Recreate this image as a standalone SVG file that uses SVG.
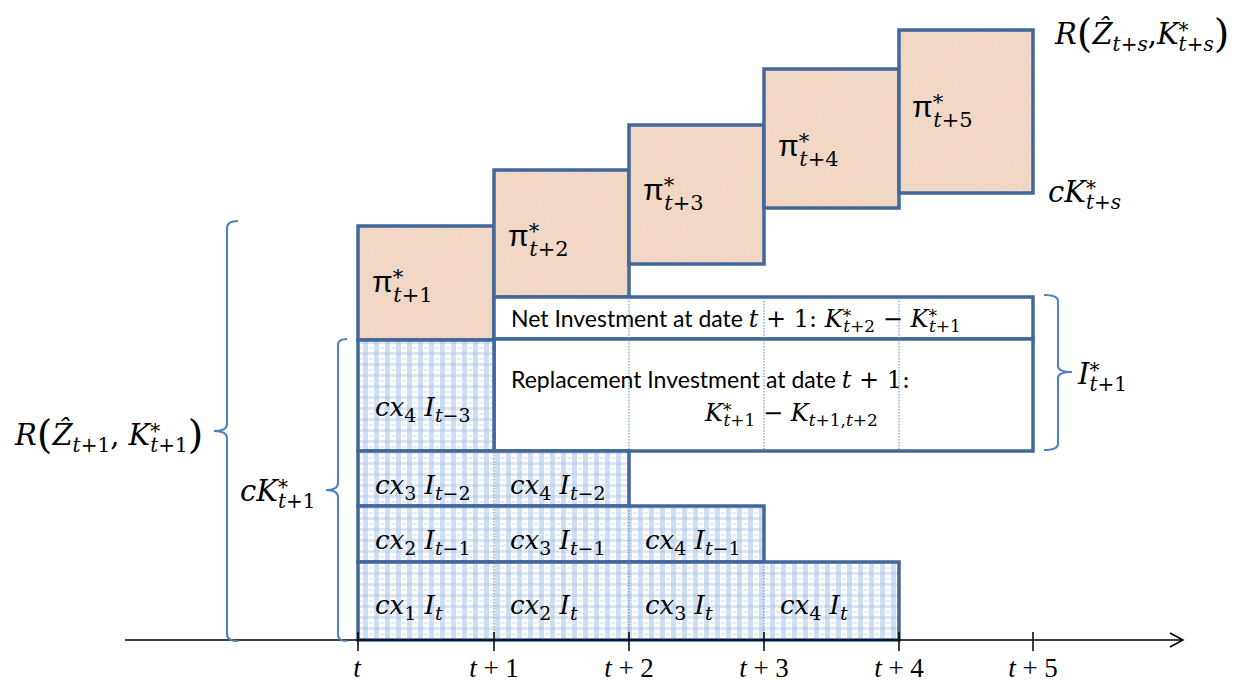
<svg xmlns="http://www.w3.org/2000/svg" width="1247" height="682" viewBox="0 0 1247 682">
<defs>
<pattern id="pOr" width="14" height="7" patternUnits="userSpaceOnUse" patternTransform="rotate(-45)">
<rect width="14" height="7" fill="#FCD6B6"/>
<path d="M0,0.5H14 M4,0.5V4 M11,4V7.5 M0,4H14" stroke="#D2DBEB" stroke-width="0.8" fill="none"/>
</pattern>
<pattern id="pBl" width="11" height="11" patternUnits="userSpaceOnUse">
<rect width="11" height="11" fill="#FFFFFF"/>
<rect width="5" height="11" fill="#CFDEF3"/>
<rect width="11" height="3" fill="#DCE6F5"/>
<rect width="5" height="3" fill="#C0D4EE"/>
<rect x="6" y="6" width="4" height="2" fill="#E4ECF8"/>
</pattern>
</defs>
<style>
.box{stroke:#41679B;stroke-width:3.5}
.or{fill:url(#pOr)}
.bl{fill:url(#pBl)}
.wh{fill:#FFFFFF}
.dot{stroke:#4F81BD;stroke-width:1;stroke-dasharray:1.5 1.5;fill:none}
.brace{stroke:#4F81BD;stroke-width:2;fill:none}
.ax{stroke:#000000;stroke-width:1.5;fill:none}
.m{font-family:"DejaVu Serif","Liberation Serif",serif;font-style:italic;fill:#000000}
.lm{font-family:"Liberation Serif","DejaVu Serif",serif;font-style:italic;fill:#000000}
.u{font-style:normal}
.lb{font-size:26px}
.s{font-size:19px}
.s2{font-size:20px}
.pi{font-family:"Liberation Sans","DejaVu Sans",sans-serif;font-size:30px;fill:#000000}
.sans{font-family:Lato,"Liberation Sans",sans-serif;font-size:23px;fill:#000000}
</style>

<!-- profit boxes -->
<g id="pi1"><rect class="box or" x="358" y="226" width="136" height="114"/>
<text class="pi" x="372" y="292">π<tspan class="m" font-size="21" dy="-8">*</tspan><tspan class="m" font-size="21" dx="-10" dy="18">t</tspan><tspan class="m u" font-size="21">+1</tspan></text></g>
<g id="pi2"><rect class="box or" x="494" y="170" width="135" height="127"/>
<text class="pi" x="508" y="246">π<tspan class="m" font-size="21" dy="-8">*</tspan><tspan class="m" font-size="21" dx="-10" dy="18">t</tspan><tspan class="m u" font-size="21">+2</tspan></text></g>
<g id="pi3"><rect class="box or" x="629" y="125" width="135" height="139"/>
<text class="pi" x="643" y="200">π<tspan class="m" font-size="21" dy="-8">*</tspan><tspan class="m" font-size="21" dx="-10" dy="18">t</tspan><tspan class="m u" font-size="21">+3</tspan></text></g>
<g id="pi4"><rect class="box or" x="764" y="69" width="135" height="139"/>
<text class="pi" x="778" y="156">π<tspan class="m" font-size="21" dy="-8">*</tspan><tspan class="m" font-size="21" dx="-10" dy="18">t</tspan><tspan class="m u" font-size="21">+4</tspan></text></g>
<g id="pi5"><rect class="box or" x="899" y="30" width="134" height="163"/>
<text class="pi" x="912" y="117">π<tspan class="m" font-size="21" dy="-8">*</tspan><tspan class="m" font-size="21" dx="-10" dy="18">t</tspan><tspan class="m u" font-size="21">+5</tspan></text></g>

<!-- investment boxes -->
<g id="netInv"><rect class="box wh" x="494" y="297" width="539" height="42"/></g>
<g id="replInv"><rect class="box wh" x="494" y="339" width="539" height="112"/></g>

<!-- capital boxes -->
<g id="row1"><rect class="box bl" x="358" y="340" width="136" height="111"/></g>
<g id="row2"><rect class="box bl" x="358" y="451" width="271" height="55"/></g>
<g id="row3"><rect class="box bl" x="358" y="506" width="406" height="56"/></g>
<g id="row4"><rect class="box bl" x="358" y="562" width="541" height="78"/></g>

<!-- dotted period dividers -->
<g id="dividers">
<path class="dot" d="M494,452V640 M629,298V451 M629,507V640 M764,298V451 M764,563V640 M899,298V451"/>
</g>

<!-- texts in boxes -->
<g id="netInvText">
<text class="sans" x="511" y="327">Net Investment at date <tspan class="m" font-size="24">t<tspan class="u"> + 1: </tspan>K<tspan font-size="17" dy="-5">*</tspan><tspan font-size="17" dx="-8" dy="10">t</tspan><tspan class="u" font-size="17">+2</tspan><tspan class="u" dy="-5"> − </tspan>K<tspan font-size="17" dy="-5">*</tspan><tspan font-size="17" dx="-8" dy="10">t</tspan><tspan class="u" font-size="17">+1</tspan></tspan></text>
</g>
<g id="replInvText">
<text class="sans" x="511" y="388">Replacement Investment at date <tspan class="m" font-size="24">t<tspan class="u"> + 1:</tspan></tspan></text>
<text class="m" font-size="24" x="705" y="421">K<tspan font-size="17" dy="-5">*</tspan><tspan font-size="17" dx="-8" dy="10">t</tspan><tspan class="u" font-size="17">+1</tspan><tspan class="u" dy="-5"> − </tspan>K<tspan font-size="17" dy="5">t</tspan><tspan class="u" font-size="17">+1,</tspan><tspan font-size="17">t</tspan><tspan class="u" font-size="17">+2</tspan></text>
</g>

<g id="capText">
<text class="m lb" x="375" y="416">cx<tspan class="u s" dy="6">4</tspan><tspan dy="-6"> I</tspan><tspan class="s" dy="6">t</tspan><tspan class="u s">−3</tspan></text>
<text class="m lb" x="375" y="494">cx<tspan class="u s" dy="6">3</tspan><tspan dy="-6"> I</tspan><tspan class="s" dy="6">t</tspan><tspan class="u s">−2</tspan></text>
<text class="m lb" x="510" y="494">cx<tspan class="u s" dy="6">4</tspan><tspan dy="-6"> I</tspan><tspan class="s" dy="6">t</tspan><tspan class="u s">−2</tspan></text>
<text class="m lb" x="375" y="549">cx<tspan class="u s" dy="6">2</tspan><tspan dy="-6"> I</tspan><tspan class="s" dy="6">t</tspan><tspan class="u s">−1</tspan></text>
<text class="m lb" x="510" y="549">cx<tspan class="u s" dy="6">3</tspan><tspan dy="-6"> I</tspan><tspan class="s" dy="6">t</tspan><tspan class="u s">−1</tspan></text>
<text class="m lb" x="645" y="549">cx<tspan class="u s" dy="6">4</tspan><tspan dy="-6"> I</tspan><tspan class="s" dy="6">t</tspan><tspan class="u s">−1</tspan></text>
<text class="m lb" x="375" y="614">cx<tspan class="u s" dy="6">1</tspan><tspan dy="-6"> I</tspan><tspan class="s" dy="6">t</tspan></text>
<text class="m lb" x="510" y="614">cx<tspan class="u s" dy="6">2</tspan><tspan dy="-6"> I</tspan><tspan class="s" dy="6">t</tspan></text>
<text class="m lb" x="645" y="614">cx<tspan class="u s" dy="6">3</tspan><tspan dy="-6"> I</tspan><tspan class="s" dy="6">t</tspan></text>
<text class="m lb" x="780" y="614">cx<tspan class="u s" dy="6">4</tspan><tspan dy="-6"> I</tspan><tspan class="s" dy="6">t</tspan></text>
</g>

<!-- connectors: axis and braces -->
<g id="connectors">
<path class="ax" d="M125,640H1182"/>
<path class="ax" d="M1170,633L1183,640L1170,647"/>
<path class="ax" d="M358,632V651 M494,632V651 M629,632V651 M764,632V651 M899,632V651 M1033,632V651"/>
<path class="brace" d="M238,221Q227,221 227,228V424Q227,431 214,431Q227,431 227,438V634Q227,641 238,641"/>
<path class="brace" d="M347,339Q338,339 338,345V483Q338,490 326,490Q338,490 338,497V635Q338,641 347,641"/>
<path class="brace" d="M1044,295Q1058,295 1058,301V366Q1058,372 1072,372Q1058,372 1058,378V444Q1058,450 1044,450"/>
</g>

<g id="axisLabels">
<text class="lm" font-size="27" x="357" y="677" text-anchor="middle">t</text>
<text class="lm" font-size="27" x="494" y="677" text-anchor="middle">t<tspan class="u"> + 1</tspan></text>
<text class="lm" font-size="27" x="629" y="677" text-anchor="middle">t<tspan class="u"> + 2</tspan></text>
<text class="lm" font-size="27" x="764" y="677" text-anchor="middle">t<tspan class="u"> + 3</tspan></text>
<text class="lm" font-size="27" x="899" y="677" text-anchor="middle">t<tspan class="u"> + 4</tspan></text>
<text class="lm" font-size="27" x="1033" y="677" text-anchor="middle">t<tspan class="u"> + 5</tspan></text>
</g>

<g id="braceLabels">
<text class="m" font-size="29" x="15" y="445">R<tspan class="u" font-size="40" dy="3">(</tspan><tspan dy="-3">Ẑ</tspan><tspan class="s2" dy="7">t</tspan><tspan class="u s2">+1</tspan><tspan class="u" dy="-7">, </tspan>K<tspan class="s2" dy="-7">*</tspan><tspan class="s2" dx="-10" dy="14">t</tspan><tspan class="u s2">+1</tspan><tspan class="u" font-size="40" dy="-4">)</tspan></text>
<text class="m" font-size="29" x="240" y="501">cK<tspan class="s2" dy="-7">*</tspan><tspan class="s2" dx="-10" dy="14">t</tspan><tspan class="u s2">+1</tspan></text>
<text class="m" font-size="29" x="1078" y="384">I<tspan class="s2" dy="-7">*</tspan><tspan class="s2" dx="-10" dy="14">t</tspan><tspan class="u s2">+1</tspan></text>
<text class="m" font-size="29" x="1055" y="44">R<tspan class="u" font-size="40" dy="3">(</tspan><tspan dy="-3">Ẑ</tspan><tspan class="s2" dy="7">t</tspan><tspan class="u s2">+</tspan><tspan class="s2">s</tspan><tspan class="u" dy="-7">,</tspan>K<tspan class="s2" dy="-7">*</tspan><tspan class="s2" dx="-10" dy="14">t</tspan><tspan class="u s2">+</tspan><tspan class="s2">s</tspan><tspan class="u" font-size="40" dy="-4">)</tspan></text>
<text class="m" font-size="29" x="1048" y="202">cK<tspan class="s2" dy="-7">*</tspan><tspan class="s2" dx="-10" dy="14">t</tspan><tspan class="u s2">+</tspan><tspan class="s2">s</tspan></text>
</g>
</svg>
